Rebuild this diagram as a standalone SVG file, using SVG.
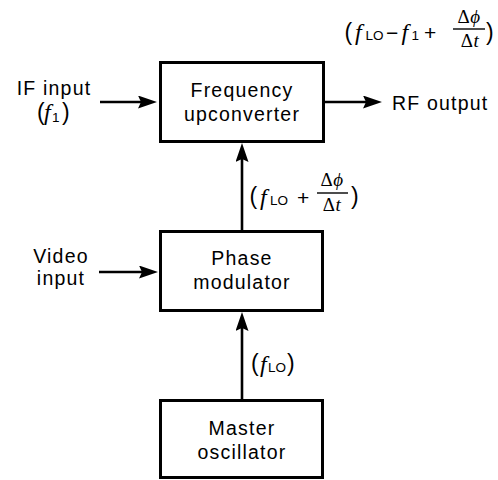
<svg xmlns="http://www.w3.org/2000/svg" width="498" height="480" viewBox="0 0 498 480">
<style>
.box{fill:#fff;stroke:#000;stroke-width:3}
.lbl{font-family:"Liberation Sans",Arial,sans-serif;font-size:19.5px;letter-spacing:1.2px;fill:#000}
.c{text-anchor:middle}
.par{font-family:"Liberation Sans",Arial,sans-serif;font-size:23px;fill:#000}
.op{font-family:"Liberation Sans",Arial,sans-serif;font-size:21px;fill:#000}
.sub{font-family:"Liberation Sans",Arial,sans-serif;font-size:13.5px;fill:#000}
.mi{font-family:"Liberation Serif","DejaVu Serif",serif;font-style:italic;font-size:24px;fill:#000}
.fr{font-family:"Liberation Serif","DejaVu Serif",serif;font-size:19px;letter-spacing:0.5px;fill:#000;text-anchor:middle}
.fr .i{font-style:italic}
.conn line{stroke:#000;stroke-width:2.6;fill:none}
.bar{stroke:#000;stroke-width:1.4}
</style>
<defs>
<marker id="ah" viewBox="-11 -6.5 19 13" refX="0" refY="0" markerWidth="19" markerHeight="13" markerUnits="userSpaceOnUse" orient="auto">
<path d="M8,0 L-11,-6.5 L-8,0 L-11,6.5 Z" fill="#000"/>
</marker>
</defs>

<g id="connectors" class="conn">
<line x1="100" y1="102" x2="149" y2="102" marker-end="url(#ah)"/>
<line x1="325" y1="102" x2="374" y2="102" marker-end="url(#ah)"/>
<line x1="242" y1="230" x2="242" y2="151" marker-end="url(#ah)"/>
<line x1="99" y1="272" x2="150" y2="272" marker-end="url(#ah)"/>
<line x1="242" y1="399" x2="242" y2="320" marker-end="url(#ah)"/>
</g>

<g id="upconverter">
<rect class="box" x="160.5" y="62.5" width="163" height="79"/>
<text class="lbl c" x="242" y="97">Frequency</text>
<text class="lbl c" x="242" y="121">upconverter</text>
</g>

<g id="phase-modulator">
<rect class="box" x="160.5" y="231.5" width="162" height="79"/>
<text class="lbl c" x="242" y="265">Phase</text>
<text class="lbl c" x="242" y="289">modulator</text>
</g>

<g id="master-oscillator">
<rect class="box" x="160.5" y="400.5" width="162" height="77"/>
<text class="lbl c" x="242" y="435">Master</text>
<text class="lbl c" x="242" y="459">oscillator</text>
</g>

<g id="if-input">
<text class="lbl c" x="54" y="95">IF input</text>
<text class="par" x="37" y="120" font-size="19">(</text>
<text class="mi" x="44" y="120" font-size="22">f</text>
<text class="sub" x="52" y="122">1</text>
<text class="par" x="62" y="120" font-size="19">)</text>
</g>

<g id="video-input">
<text class="lbl c" x="61" y="263">Video</text>
<text class="lbl c" x="61" y="285">input</text>
</g>

<g id="rf-output">
<text class="lbl" x="392" y="110">RF output</text>
</g>

<g id="label-top">
<text class="par" x="344.5" y="40">(</text>
<text class="mi" x="355" y="40">f</text>
<text class="sub" x="365.5" y="40">LO</text>
<text class="op" x="386" y="40">−</text>
<text class="mi" x="401.5" y="40">f</text>
<text class="sub" x="411.5" y="40">1</text>
<text class="op" x="424" y="40">+</text>
<text class="fr" x="469" y="23">Δ<tspan class="i">ϕ</tspan></text>
<line class="bar" x1="453" y1="29" x2="485" y2="29"/>
<text class="fr" x="470" y="46.5">Δ<tspan class="i">t</tspan></text>
<text class="par" x="486" y="40">)</text>
</g>

<g id="label-mid">
<text class="par" x="249.5" y="204">(</text>
<text class="mi" x="260" y="205">f</text>
<text class="sub" x="270" y="205">LO</text>
<text class="op" x="297" y="205">+</text>
<text class="fr" x="332" y="186">Δ<tspan class="i">ϕ</tspan></text>
<line class="bar" x1="317" y1="193" x2="348" y2="193"/>
<text class="fr" x="332" y="210.5">Δ<tspan class="i">t</tspan></text>
<text class="par" x="351" y="204">)</text>
</g>

<g id="label-bottom">
<text class="par" x="251" y="371" font-size="21">(</text>
<text class="mi" x="260" y="372">f</text>
<text class="sub" x="268" y="372">LO</text>
<text class="par" x="287" y="371" font-size="21">)</text>
</g>
</svg>
